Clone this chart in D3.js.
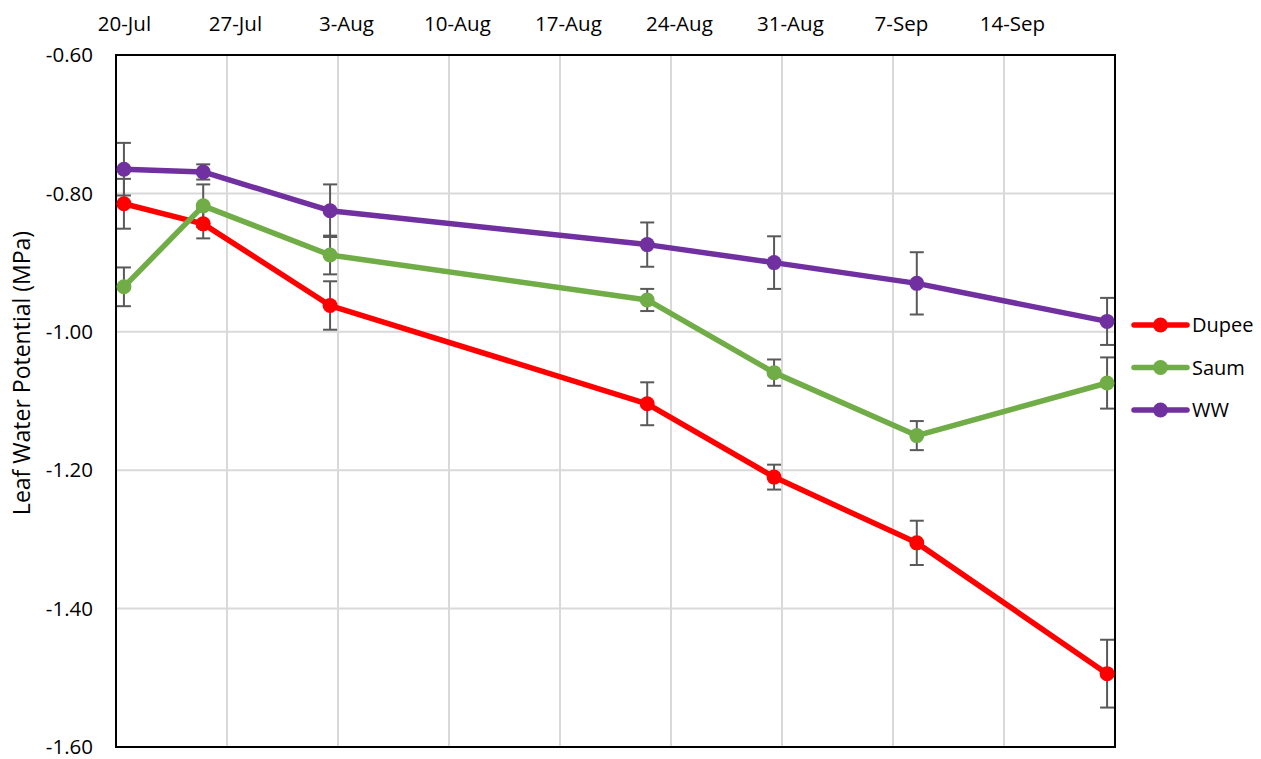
<!DOCTYPE html>
<html>
<head>
<meta charset="utf-8">
<script src="https://cdn.jsdelivr.net/npm/d3@7"></script>
<style>
  html, body { margin: 0; padding: 0; background: #fff; }
  svg { display: block; font-family: "Open Sans", "Liberation Sans", sans-serif; }
</style>
</head>
<body>
<svg id="chart" width="1261" height="759"></svg>
<script>
// Sampling dates (one measurement day each)
const sampleDates = ["2019-07-20", "2019-07-25", "2019-08-02", "2019-08-22", "2019-08-30", "2019-09-08", "2019-09-20"];

// Leaf water potential (MPa) and standard errors per treatment
const seriesNames = ["Dupee", "Saum", "WW"];
const dupeeValues = [-0.815, -0.844, -0.962, -1.104, -1.210, -1.305, -1.494];
const dupeeErrors = [0.036, 0.021, 0.035, 0.031, 0.018, 0.032, 0.049];
const saumValues  = [-0.935, -0.818, -0.889, -0.954, -1.059, -1.150, -1.074];
const saumErrors  = [0.028, 0.031, 0.028, 0.016, 0.019, 0.021, 0.037];
const wwValues    = [-0.765, -0.769, -0.825, -0.874, -0.900, -0.930, -0.985];
const wwErrors    = [0.038, 0.011, 0.038, 0.032, 0.038, 0.045, 0.034];

// Axis ranges and tick values
const xStart = "2019-07-20";
const xEnd = "2019-09-21";
const yTicks = [-0.6, -0.8, -1.0, -1.2, -1.4, -1.6];

const colors = { Dupee: "#ff0000", Saum: "#70ad47", WW: "#7030a0" };

const svg = d3.select("#chart");
const margin = { left: 116, top: 55, right: 1115, bottom: 747 };

const parse = d3.utcParse("%Y-%m-%d");
const dayMs = 864e5;
// each day occupies one slot; values sit in the middle of their day
const mid = d => new Date(d.getTime() + dayMs / 2);

const x = d3.scaleUtc()
  .domain([parse(xStart), parse(xEnd)])
  .range([margin.left, margin.right]);
const y = d3.scaleLinear()
  .domain([-0.6, -1.6])
  .range([margin.top, margin.bottom]);

const weekTicks = d3.utcDay.range(parse(xStart), parse(xEnd), 7);
const fmtDate = d3.utcFormat("%-d-%b");
const fmtVal = v => d3.format(".2f")(v).replace("\u2212", "-");

// gridlines
const grid = svg.append("g").attr("stroke", "#d9d9d9").attr("stroke-width", 2);
grid.selectAll("line.v").data(weekTicks.slice(1)).join("line")
  .attr("x1", d => x(d)).attr("x2", d => x(d))
  .attr("y1", margin.top).attr("y2", margin.bottom);
grid.selectAll("line.h").data(yTicks.slice(1, -1)).join("line")
  .attr("x1", margin.left).attr("x2", margin.right)
  .attr("y1", d => y(d)).attr("y2", d => y(d));

// top date axis labels
const xAxis = d3.axisTop(x).tickValues(weekTicks.map(mid)).tickFormat(d => fmtDate(d)).tickSize(0).tickPadding(0);
const gx = svg.append("g").attr("transform", "translate(0,31)").call(xAxis);
gx.select(".domain").remove();
gx.selectAll("text").attr("font-size", 20.5).attr("fill", "#000").attr("dy", 0)
  .attr("font-family", "'Open Sans', sans-serif");

// left value axis labels
const yAxis = d3.axisLeft(y).tickValues(yTicks).tickFormat(fmtVal).tickSize(0).tickPadding(0);
const gy = svg.append("g").attr("transform", "translate(93,0)").call(yAxis);
gy.select(".domain").remove();
gy.selectAll("text").attr("font-size", 20.5).attr("fill", "#000").attr("dy", "0.33em")
  .attr("font-family", "'Open Sans', sans-serif");

// y title
svg.append("text")
  .attr("transform", `translate(30,${(margin.top + margin.bottom) / 2 - 28}) rotate(-90)`)
  .attr("text-anchor", "middle")
  .attr("font-size", 23)
  .text("Leaf Water Potential (MPa)");

// plot frame
svg.append("rect")
  .attr("x", margin.left).attr("y", margin.top)
  .attr("width", margin.right - margin.left).attr("height", margin.bottom - margin.top)
  .attr("fill", "none").attr("stroke", "#000").attr("stroke-width", 2);

const series = [
  { name: "Dupee", values: dupeeValues, errors: dupeeErrors },
  { name: "Saum", values: saumValues, errors: saumErrors },
  { name: "WW", values: wwValues, errors: wwErrors }
].map(s => ({
  ...s,
  points: sampleDates.map((d, i) => ({ date: mid(parse(d)), v: s.values[i], e: s.errors[i] }))
}));

// error bars
const capHalf = 7;
series.forEach(s => {
  const g = svg.append("g").attr("stroke", "#595959").attr("stroke-width", 2);
  s.points.forEach(p => {
    const px = x(p.date);
    g.append("line").attr("x1", px).attr("x2", px).attr("y1", y(p.v + p.e)).attr("y2", y(p.v - p.e));
    g.append("line").attr("x1", px - capHalf).attr("x2", px + capHalf).attr("y1", y(p.v + p.e)).attr("y2", y(p.v + p.e));
    g.append("line").attr("x1", px - capHalf).attr("x2", px + capHalf).attr("y1", y(p.v - p.e)).attr("y2", y(p.v - p.e));
  });
});

// lines and markers
const line = d3.line().x(p => x(p.date)).y(p => y(p.v));
series.forEach(s => {
  svg.append("path").datum(s.points)
    .attr("d", line).attr("fill", "none")
    .attr("stroke", colors[s.name]).attr("stroke-width", 5.5)
    .attr("stroke-linejoin", "round");
  svg.append("g").selectAll("circle").data(s.points).join("circle")
    .attr("cx", p => x(p.date)).attr("cy", p => y(p.v)).attr("r", 7.5)
    .attr("fill", colors[s.name]);
});

// legend
const legend = svg.append("g");
const legendY = d3.scalePoint().domain(seriesNames).range([325, 410]);
seriesNames.forEach(name => {
  const ly = legendY(name);
  legend.append("line").attr("x1", 1134).attr("x2", 1187).attr("y1", ly).attr("y2", ly)
    .attr("stroke", colors[name]).attr("stroke-width", 5.5).attr("stroke-linecap", "round");
  legend.append("circle").attr("cx", 1160.5).attr("cy", ly).attr("r", 7.5).attr("fill", colors[name]);
  legend.append("text").attr("x", 1192).attr("y", ly).attr("dy", "0.35em")
    .attr("font-size", 20).text(name);
});
</script>
</body>
</html>
